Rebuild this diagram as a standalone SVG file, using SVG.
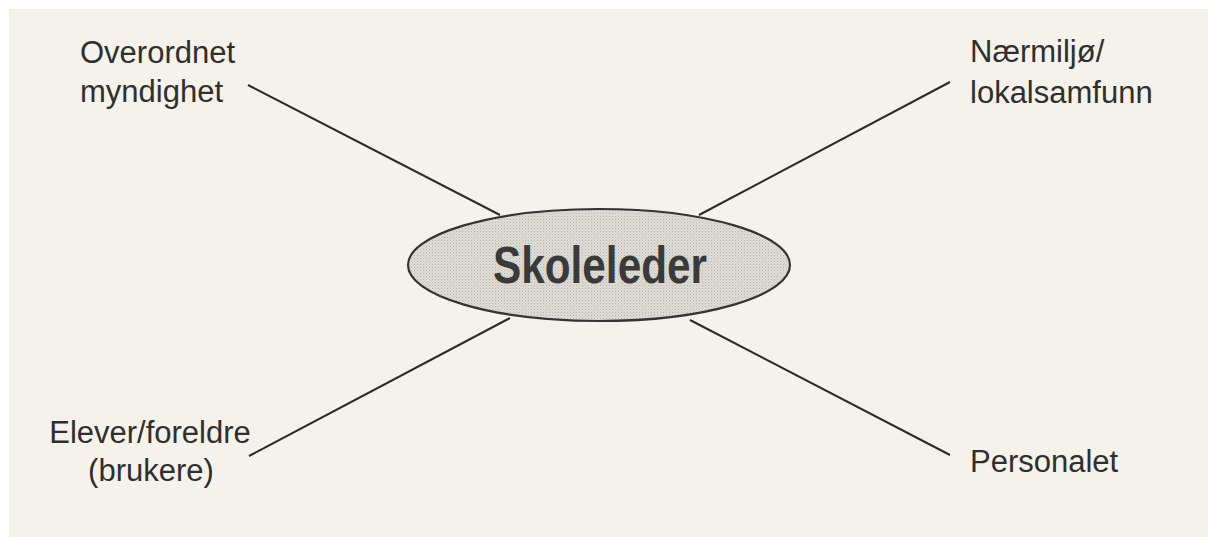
<svg xmlns="http://www.w3.org/2000/svg" width="1208" height="539" viewBox="0 0 1208 539">
<defs>
<style>
.lbl{font-family:"Liberation Sans",Arial,sans-serif;font-size:31px;fill:#2f2f2f}
.conn{stroke:#2a2a2a;stroke-width:2;fill:none}
</style>
<pattern id="stip" width="3" height="3" patternUnits="userSpaceOnUse">
<rect width="3" height="3" fill="#dedcd5"/>
<rect x="0" y="0" width="1" height="1" fill="#b8b6b0"/>
<rect x="1.5" y="1.5" width="1" height="1" fill="#c6c4be"/>
</pattern>
</defs>
<rect width="1208" height="539" fill="#ffffff"/>
<rect x="9" y="9" width="1199" height="528" fill="#f4f2ea"/>
<g id="connectors">
<line class="conn" x1="248" y1="85" x2="500" y2="215"/>
<line class="conn" x1="950" y1="82" x2="699" y2="215"/>
<line class="conn" x1="249" y1="456" x2="510" y2="318"/>
<line class="conn" x1="950" y1="455" x2="690" y2="320"/>
</g>
<g id="skoleleder">
<ellipse cx="599" cy="265" rx="191" ry="56" fill="url(#stip)" stroke="#333" stroke-width="2.2"/>
<text x="600" y="283" text-anchor="middle" font-family="Liberation Sans,Arial,sans-serif" font-weight="bold" font-size="52" fill="#3a3a3a" textLength="214" lengthAdjust="spacingAndGlyphs">Skoleleder</text>
</g>
<g id="overordnet">
<text class="lbl" x="80" y="63">Overordnet</text>
<text class="lbl" x="80" y="102">myndighet</text>
</g>
<g id="naermiljo">
<text class="lbl" x="970" y="62">Nærmiljø/</text>
<text class="lbl" x="970" y="103">lokalsamfunn</text>
</g>
<g id="elever">
<text class="lbl" x="150" y="443" text-anchor="middle">Elever/foreldre</text>
<text class="lbl" x="151" y="481" text-anchor="middle">(brukere)</text>
</g>
<g id="personalet">
<text class="lbl" x="970" y="472">Personalet</text>
</g>
</svg>
